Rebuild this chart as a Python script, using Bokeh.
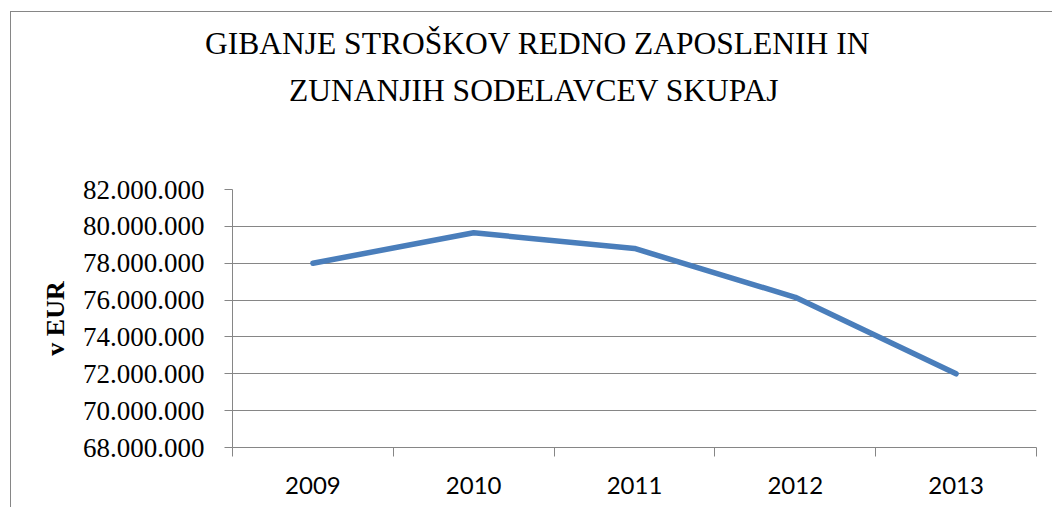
from bokeh.plotting import figure
from bokeh.models import FixedTicker, Range1d, Title, LinearAxis
from bokeh.embed import file_html
from bokeh.resources import INLINE

years = ["2009", "2010", "2011", "2012", "2013"]
costs = [78_000_000, 79_650_000, 78_800_000, 76_150_000, 72_000_000]
y_ticks = [68_000_000, 70_000_000, 72_000_000, 74_000_000, 76_000_000, 78_000_000, 80_000_000, 82_000_000]
y_tick_labels = ["68.000.000", "70.000.000", "72.000.000", "74.000.000",
                 "76.000.000", "78.000.000", "80.000.000", "82.000.000"]
title_lines = ["GIBANJE STROŠKOV REDNO ZAPOSLENIH IN", "ZUNANJIH SODELAVCEV SKUPAJ"]
y_title = "v EUR"

GRAY = "#868686"
BLUE = "#4a7ebb"

xs = [i + 0.5 for i in range(len(years))]

p = figure(output_backend="svg", toolbar_location=None,
           frame_width=804, frame_height=258,
           min_border_left=221, min_border_right=16, min_border_top=177, min_border_bottom=60,
           x_range=Range1d(0, len(years)), y_range=Range1d(y_ticks[0], y_ticks[-1]),
           x_axis_location=None, y_axis_location=None,
           background_fill_color="white", border_fill_color="white",
           styles={"margin": "11px 0px 0px 10px", "border-left": f"1px solid {GRAY}",
                   "border-top": f"1px solid {GRAY}"})
p.outline_line_color = None

# y axis
yax = LinearAxis(ticker=FixedTicker(ticks=y_ticks, minor_ticks=[]))
yax.major_label_overrides = {t: l for t, l in zip(y_ticks, y_tick_labels)}
yax.axis_line_color = GRAY
yax.major_tick_line_color = GRAY
yax.major_tick_out = 8
yax.major_tick_in = 0
yax.minor_tick_line_color = None
yax.major_label_text_font = "Liberation Serif"
yax.major_label_text_font_size = "27px"
yax.major_label_text_color = "black"
yax.major_label_standoff = 20
yax.axis_label = y_title
yax.axis_label_text_font = "Liberation Serif"
yax.axis_label_text_font_style = "bold"
yax.axis_label_text_font_size = "26px"
yax.axis_label_text_color = "black"
yax.axis_label_standoff = 10
p.add_layout(yax, "left")

# x axis (ticks between categories)
xax = LinearAxis(ticker=FixedTicker(ticks=xs, minor_ticks=list(range(len(years) + 1))))
xax.major_label_overrides = {x: y for x, y in zip(xs, years)}
xax.axis_line_color = GRAY
xax.major_tick_line_color = None
xax.minor_tick_line_color = GRAY
xax.minor_tick_out = 9
xax.minor_tick_in = 0
xax.major_tick_out = 0
xax.major_tick_in = 0
xax.major_label_text_font = "Lato"
xax.major_label_text_font_size = "24px"
xax.major_label_text_color = "black"
xax.major_label_standoff = 20
p.add_layout(xax, "below")

p.xgrid.visible = False
p.ygrid.ticker = FixedTicker(ticks=y_ticks)
p.ygrid.grid_line_color = GRAY
p.ygrid.grid_line_width = 1

p.line(xs, costs, line_color=BLUE, line_width=5.5, line_cap="round", line_join="round")

# title: spacer, then line 2, then line 1 (stacked upward from the frame)
p.add_layout(Title(text=" ", text_font_size="58px"), "above")
p.add_layout(Title(text=title_lines[1], align="left", offset=56.5,
                   text_font="Liberation Serif", text_font_size="31.5px",
                   text_font_style="normal", text_color="black"), "above")
p.add_layout(Title(text=title_lines[0], align="left", offset=-27.5,
                   text_font="Liberation Serif", text_font_size="31.5px",
                   text_font_style="normal", text_color="black"), "above")

open("out.html", "w").write(file_html(p, INLINE))
